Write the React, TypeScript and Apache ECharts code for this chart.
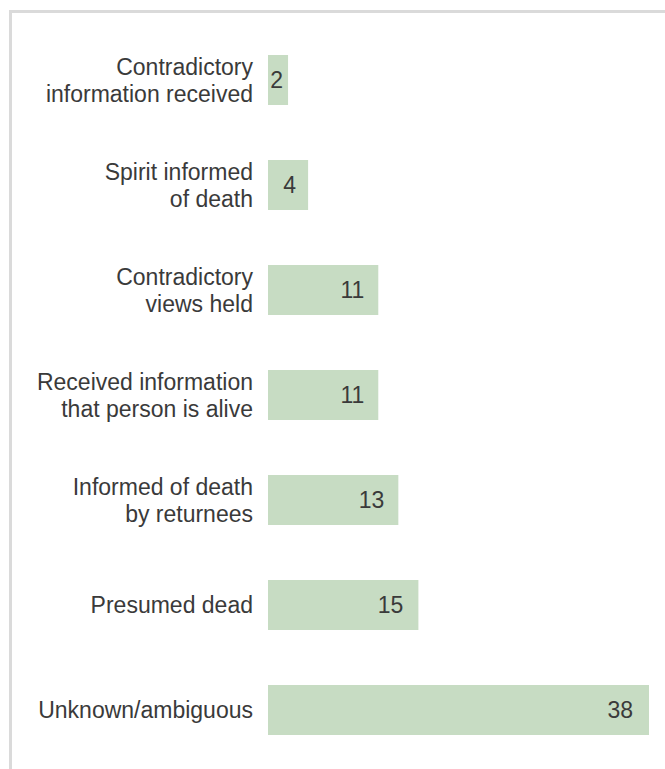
import React, { useEffect, useRef } from "react";
import * as echarts from "echarts";

const categories = [
  "Contradictory\ninformation received",
  "Spirit informed\nof death",
  "Contradictory\nviews held",
  "Received information\nthat person is alive",
  "Informed of death\nby returnees",
  "Presumed dead",
  "Unknown/ambiguous",
];
const values = [2, 4, 11, 11, 13, 15, 38];
const labelDistances = [5, 12, 14, 14, 14, 15, 16];

export default function App() {
  const ref = useRef<HTMLDivElement>(null);
  useEffect(() => {
    if (!ref.current) return;
    const chart = echarts.init(ref.current, undefined, { renderer: "svg" });
    const font = "'Liberation Sans', Arial, sans-serif";
    chart.setOption({
      animation: false,
      grid: { left: 268, right: 16, top: 27.5, bottom: 6.5, containLabel: false },
      xAxis: {
        type: "value",
        min: 0,
        max: 38,
        show: false,
      },
      yAxis: {
        type: "category",
        data: categories,
        inverse: true,
        axisLine: { show: false },
        axisTick: { show: false },
        splitLine: { show: false },
        axisLabel: {
          margin: 15,
          fontFamily: font,
          fontSize: 23,
          lineHeight: 27,
          color: "#3a3a3a",
          align: "right",
        },
      },
      graphic: [
        { type: "rect", left: 9, top: 10, shape: { width: 656, height: 3 }, style: { fill: "#dadada" }, silent: true },
        { type: "rect", left: 9, top: 10, shape: { width: 3, height: 759 }, style: { fill: "#dadada" }, silent: true },
      ],
      series: [
        {
          type: "bar",
          barWidth: 50,
          itemStyle: { color: "#c7dcc3" },
          data: values.map((v, i) => ({
            value: v,
            label: { distance: labelDistances[i] },
          })),
          label: {
            show: true,
            position: "insideRight",
            fontFamily: font,
            fontSize: 23,
            color: "#3a3a3a",
          },
        },
      ],
    });
    return () => chart.dispose();
  }, []);
  return (
    <div
      ref={ref}
      style={{ position: "fixed", left: 0, top: 0, width: 665, height: 769, background: "#fff" }}
    />
  );
}
